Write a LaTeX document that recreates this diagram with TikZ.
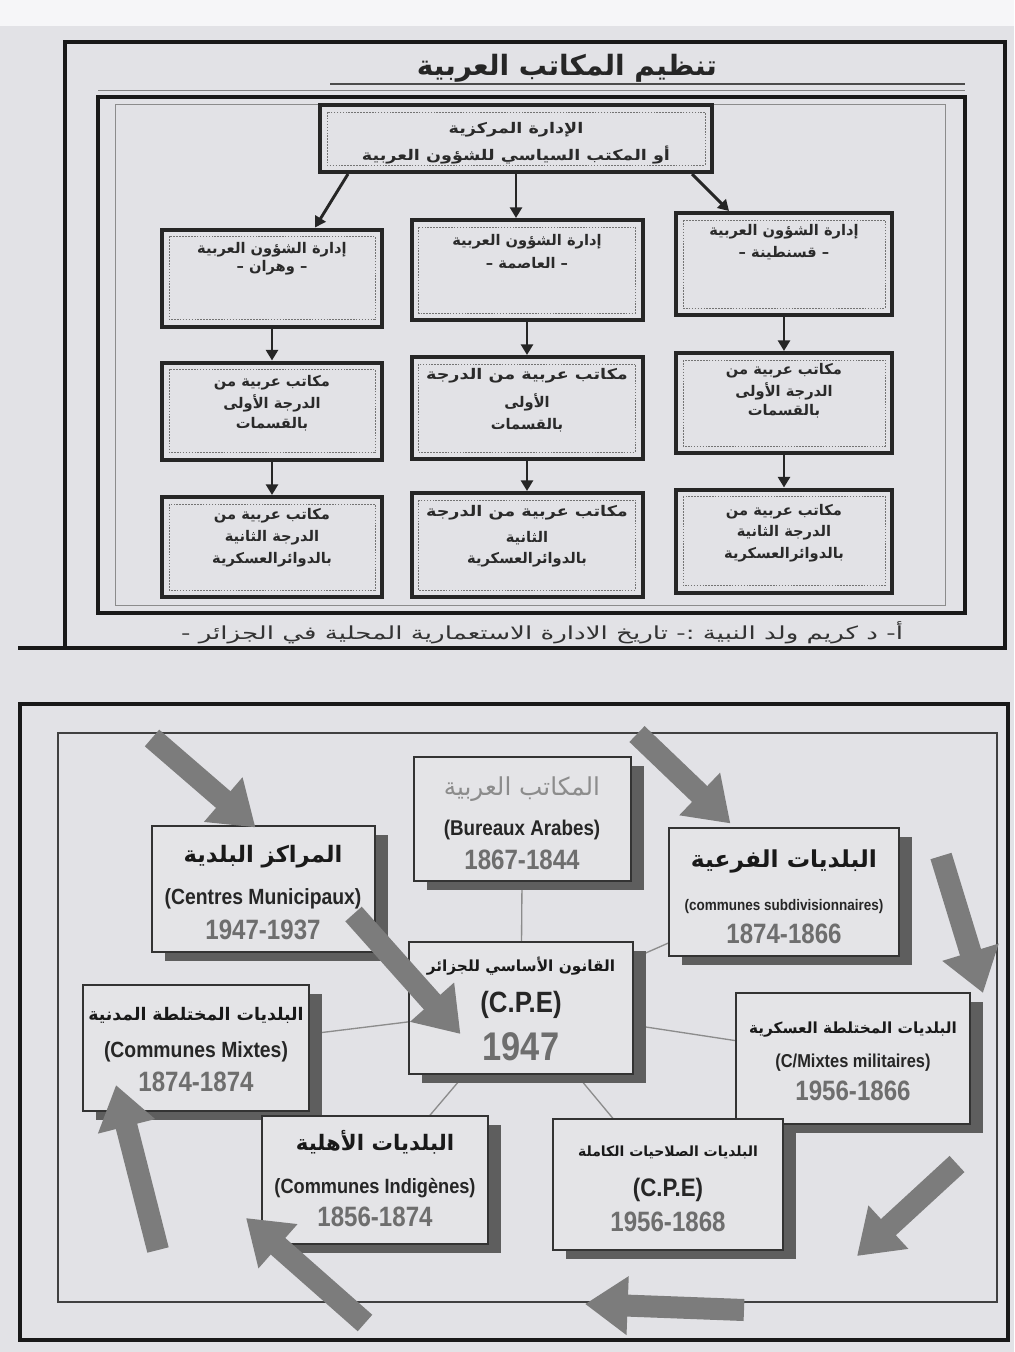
\documentclass[tikz,border=0pt]{standalone}
\usepackage{fontspec}
\usetikzlibrary{arrows.meta,calc,shadows}
\TeXXeTstate=1
\newfontfamily\arabicfont[Script=Arabic]{DejaVu Sans}
\newfontfamily\arabicwide[Script=Arabic,FakeStretch=1.45]{DejaVu Sans}
\newfontfamily\arabicmid[Script=Arabic,FakeStretch=1.2]{DejaVu Sans}
\newfontfamily\numfont[FakeStretch=0.86]{Liberation Sans}
\newfontfamily\latfont[FakeStretch=0.88]{Liberation Sans}
\newcommand\AR[1]{{\arabicfont\beginR #1\endR}}
\newcommand\ARW[1]{{\arabicwide\beginR #1\endR}}
\newcommand\ARM[1]{{\arabicmid\beginR #1\endR}}
\definecolor{paper}{HTML}{E2E2E6}
\definecolor{boxfill}{HTML}{E4E4E7}
\definecolor{shadowc}{HTML}{5E5E5E}
\definecolor{arrowc}{HTML}{7C7C7C}
\definecolor{numc}{HTML}{6E6E6E}
\definecolor{inkc}{HTML}{2A2A2A}
\pgfdeclarelayer{paperlayer}
\pgfdeclarelayer{background}
\pgfsetlayers{paperlayer,background,main}
\begin{document}
\begin{tikzpicture}[x=0.75pt,y=-0.75pt,
  frame/.style={draw=black!90, line width=2.4pt},
  tbox/.style n args={2}{draw=black!85, line width=3pt, fill=paper, minimum width=#1*0.75pt, minimum height=#2*0.75pt, inner sep=0pt},
  idash/.style={draw=black!55, line width=0.5pt, dash pattern=on 1.2pt off 1pt},
  tarrow/.style={draw=black!85, line width=2.2pt, -{Triangle[length=8pt,width=9pt]}},
  ttxt/.style={inner sep=0pt, text=inkc, font=\fontsize{11pt}{13pt}\selectfont\bfseries},
  bbox/.style n args={2}{draw=black!80, line width=0.8pt, fill=boxfill, minimum width=#1*0.75pt, minimum height=#2*0.75pt, inner sep=0pt,
      drop shadow={shadow xshift=9.5pt, shadow yshift=-7pt, fill=shadowc, opacity=1}},
  artxt/.style={inner sep=0pt, text=black!90, font=\fontsize{17pt}{19pt}\selectfont\bfseries},
  lattxt/.style={inner sep=0pt, text=black!85, font=\fontsize{16pt}{18pt}\selectfont\latfont\bfseries},
  numtxt/.style={inner sep=0pt, text=numc, font=\fontsize{21pt}{23pt}\selectfont\numfont\bfseries},
  conn/.style={draw=black!45, line width=1pt},
  bigarrow/.style={draw=arrowc, line width=16.5pt, -{Triangle[length=32pt,width=42pt]}}
]
\begin{pgfonlayer}{paperlayer}
\fill[paper] (0,0) rectangle (1014,1352);
\fill[white!70!paper] (0,0) rectangle (1014,26);
\end{pgfonlayer}
\useasboundingbox (0,0) rectangle (1014,1352);

% ================= TOP PANEL =================
\draw[frame] (65,42) rectangle (1005,648);
\draw[frame] (18,648) -- (65,648);
\node[inner sep=0pt, font=\fontsize{21pt}{23pt}\selectfont\bfseries, text=black!85] (title) at (567,68) {\AR{تنظيم المكاتب العربية}};
\draw[black!70, line width=0.8pt] (330,84) -- (965,84);
\draw[black!50, line width=0.5pt] (98,90) -- (965,90);
\draw[frame] (98,97) rectangle (965,613);
\draw[black!45, line width=0.6pt] (115,104) rectangle (945,605);

\node[tbox={392}{67}] (top) at (516,138.5) {};
\node[tbox={220}{97}] (l2L) at (272,278) {};
\node[tbox={231}{100}] (l2M) at (527,270) {};
\node[tbox={216}{102}] (l2R) at (784,264) {};
\node[tbox={220}{97}] (l3L) at (272,411) {};
\node[tbox={231}{102}] (l3M) at (527,408) {};
\node[tbox={216}{100}] (l3R) at (784,403) {};
\node[tbox={220}{100}] (l4L) at (272,547) {};
\node[tbox={231}{104}] (l4M) at (527,545) {};
\node[tbox={216}{103}] (l4R) at (784,541) {};
\foreach \b in {top,l2L,l2M,l2R,l3L,l3M,l3R,l4L,l4M,l4R}{
  \draw[idash] ($(\b.north west)+(9,9)$) rectangle ($(\b.south east)+(-9,-9)$);
}

\node[ttxt] (topt1) at (516,130) {\ARM{الإدارة المركزية}};
\node[ttxt] (topt2) at (516,155) {\ARM{أو المكتب السياسي للشؤون العربية}};

\node[ttxt] (l2Lt1) at ($(l2L.north)+(0,22)$) {\AR{إدارة الشؤون العربية}};
\node[ttxt] (l2Lt2) at ($(l2L.north)+(0,40)$) {\AR{– وهران –}};
\node[ttxt] (l2Mt1) at ($(l2M.north)+(0,24)$) {\AR{إدارة الشؤون العربية}};
\node[ttxt] (l2Mt2) at ($(l2M.north)+(0,45)$) {\AR{– العاصمة –}};
\node[ttxt] (l2Rt1) at ($(l2R.north)+(0,21)$) {\AR{إدارة الشؤون العربية}};
\node[ttxt] (l2Rt2) at ($(l2R.north)+(0,42)$) {\AR{– قسنطينة –}};

\node[ttxt] (l3Lt1) at ($(l3L.north)+(0,22)$) {\AR{مكاتب عربية من}};
\node[ttxt] (l3Lt2) at ($(l3L.north)+(0,43)$) {\AR{الدرجة الأولى}};
\node[ttxt] (l3Lt3) at ($(l3L.north)+(0,64)$) {\AR{بالقسمات}};
\node[ttxt] (l3Mt1) at ($(l3M.north)+(0,21)$) {\ARM{مكاتب عربية من الدرجة}};
\node[ttxt] (l3Mt2) at ($(l3M.north)+(0,47)$) {\AR{الأولى}};
\node[ttxt] (l3Mt3) at ($(l3M.north)+(0,70)$) {\AR{بالقسمات}};
\node[ttxt] (l3Rt1) at ($(l3R.north)+(0,20)$) {\AR{مكاتب عربية من}};
\node[ttxt] (l3Rt2) at ($(l3R.north)+(0,40)$) {\AR{الدرجة الأولى}};
\node[ttxt] (l3Rt3) at ($(l3R.north)+(0,60)$) {\AR{بالقسمات}};

\node[ttxt] (l4Lt1) at ($(l4L.north)+(0,21)$) {\AR{مكاتب عربية من}};
\node[ttxt] (l4Lt2) at ($(l4L.north)+(0,43)$) {\AR{الدرجة الثانية}};
\node[ttxt] (l4Lt3) at ($(l4L.north)+(0,65)$) {\AR{بالدوائرالعسكرية}};
\node[ttxt] (l4Mt1) at ($(l4M.north)+(0,22)$) {\ARM{مكاتب عربية من الدرجة}};
\node[ttxt] (l4Mt2) at ($(l4M.north)+(0,47)$) {\AR{الثانية}};
\node[ttxt] (l4Mt3) at ($(l4M.north)+(0,69)$) {\AR{بالدوائرالعسكرية}};
\node[ttxt] (l4Rt1) at ($(l4R.north)+(0,24)$) {\AR{مكاتب عربية من}};
\node[ttxt] (l4Rt2) at ($(l4R.north)+(0,45)$) {\AR{الدرجة الثانية}};
\node[ttxt] (l4Rt3) at ($(l4R.north)+(0,67)$) {\AR{بالدوائرالعسكرية}};

\draw[tarrow] ($(top.south west)+(30,0)$) -- ($(l2L.north)+(43,0)$);
\draw[tarrow] (top.south) -- (top.south |- l2M.north);
\draw[tarrow] ($(top.south east)+(-22,0)$) -- ($(l2R.north)+(-55,0)$);
\draw[tarrow] (l2L.south) -- (l3L.north);
\draw[tarrow] (l2M.south) -- (l3M.north);
\draw[tarrow] (l2R.south) -- (l3R.north);
\draw[tarrow] (l3L.south) -- (l4L.north);
\draw[tarrow] (l3M.south) -- (l4M.north);
\draw[tarrow] (l3R.south) -- (l4R.north);

\node[inner sep=0pt, font=\fontsize{13.5pt}{15pt}\selectfont, text=black!80] (cap) at (542,633) {\ARW{أ- د كريم ولد النبية :- تاريخ الادارة الاستعمارية المحلية في الجزائر -}};

% ================= BOTTOM PANEL =================
\draw[frame] (20,704) rectangle (1008,1340);
\draw[black!75, line width=1.2pt] (58,733) rectangle (997,1302);

\node[bbox={217}{124}] (bur) at (522.5,819) {};
\node[bbox={223}{126}] (cen) at (263.5,889) {};
\node[bbox={230}{128}] (sub) at (784,892) {};
\node[bbox={224}{132}] (cpe) at (521,1008) {};
\node[bbox={226}{126}] (mix) at (196,1048) {};
\node[bbox={234}{131}] (mil) at (853,1058.5) {};
\node[bbox={226}{128}] (ind) at (375,1180) {};
\node[bbox={230}{131}] (cpf) at (668,1184.5) {};

\begin{pgfonlayer}{background}
\draw[conn] (cpe.center) -- (bur.center);
\draw[conn] (cpe.center) -- (sub.center);
\draw[conn] (cpe.center) -- (mil.center);
\draw[conn] (cpe.center) -- (cpf.center);
\draw[conn] (cpe.center) -- (ind.center);
\draw[conn] (cpe.center) -- (mix.center);
\end{pgfonlayer}

% texts
\node[artxt, font=\fontsize{18.5pt}{20pt}\selectfont\mdseries, text=black!45] (burA) at (522,789) {\AR{المكاتب العربية}};
\node[lattxt] (burL) at (522,830) {(Bureaux Arabes)};
\node[numtxt] (burN) at (522,860) {1867-1844};

\node[artxt] (cenA) at (263,857) {\AR{المراكز البلدية}};
\node[lattxt, font=\fontsize{16.5pt}{18pt}\selectfont\latfont\bfseries] (cenL) at (263,899) {(Centres Municipaux)};
\node[numtxt] (cenN) at (263,930) {1947-1937};

\node[artxt, font=\fontsize{17.5pt}{19pt}\selectfont\bfseries] (subA) at (784,861) {\AR{البلديات الفرعية}};
\node[lattxt, font=\fontsize{11.5pt}{13pt}\selectfont\latfont\bfseries] (subL) at (784,907) {(communes subdivisionnaires)};
\node[numtxt] (subN) at (784,934) {1874-1866};

\node[artxt, font=\fontsize{11.5pt}{13pt}\selectfont\bfseries] (cpeA) at (521,966) {\AR{القانون الأساسي للجزائر}};
\node[lattxt, font=\fontsize{22pt}{24pt}\selectfont\latfont\bfseries] (cpeL) at (521,1005) {(C.P.E)};
\node[numtxt, font=\fontsize{30pt}{32pt}\selectfont\numfont\bfseries] (cpeN) at (521,1047) {1947};

\node[artxt, font=\fontsize{13pt}{15pt}\selectfont\bfseries] (mixA) at (196,1015) {\AR{البلديات المختلطة المدنية}};
\node[lattxt, font=\fontsize{16.5pt}{18pt}\selectfont\latfont\bfseries] (mixL) at (196,1052) {(Communes Mixtes)};
\node[numtxt] (mixN) at (196,1082) {1874-1874};

\node[artxt, font=\fontsize{11.5pt}{13pt}\selectfont\bfseries] (milA) at (853,1030) {\AR{البلديات المختلطة العسكرية}};
\node[lattxt, font=\fontsize{14pt}{16pt}\selectfont\latfont\bfseries] (milL) at (853,1063) {(C/Mixtes militaires)};
\node[numtxt] (milN) at (853,1091) {1956-1866};

\node[artxt, font=\fontsize{16pt}{18pt}\selectfont\bfseries] (indA) at (375,1142) {\AR{البلديات الأهلية}};
\node[lattxt, font=\fontsize{15.5pt}{17pt}\selectfont\latfont\bfseries] (indL) at (375,1188) {(Communes Indigènes)};
\node[numtxt] (indN) at (375,1217) {1856-1874};

\node[artxt, font=\fontsize{10.5pt}{12pt}\selectfont\bfseries] (cpfA) at (668,1152) {\AR{البلديات الصلاحيات الكاملة}};
\node[lattxt, font=\fontsize{19pt}{21pt}\selectfont\latfont\bfseries] (cpfL) at (668,1190) {(C.P.E)};
\node[numtxt] (cpfN) at (668,1222) {1956-1868};

% big arrows
\coordinate (a1s) at (152,738);
\coordinate (a3s) at (637,734);
\coordinate (a4s) at (941,856);
\coordinate (a4e) at (983,993);
\coordinate (a5s) at (957,1164);
\coordinate (a5e) at (857,1256);
\coordinate (a6s) at (744,1310);
\coordinate (a6e) at (585,1304);
\coordinate (a7s) at (365,1323);
\coordinate (a7e) at (246,1218);
\coordinate (a8s) at (158,1250);
\coordinate (a8e) at (116,1085);
\draw[bigarrow] (a1s) -- ($(cen.north)+(-8,2)$);
\draw[bigarrow] ($(cen.east)+(-22,25)$) -- ($(cpe.west)+(52,26)$);
\draw[bigarrow] (a3s) -- ($(sub.north west)+(62,-4)$);
\draw[bigarrow] (a4s) -- (a4e);
\draw[bigarrow] (a5s) -- (a5e);
\draw[bigarrow] (a6s) -- (a6e);
\draw[bigarrow] (a7s) -- (a7e);
\draw[bigarrow] (a8s) -- (a8e);
\end{tikzpicture}
\end{document}
